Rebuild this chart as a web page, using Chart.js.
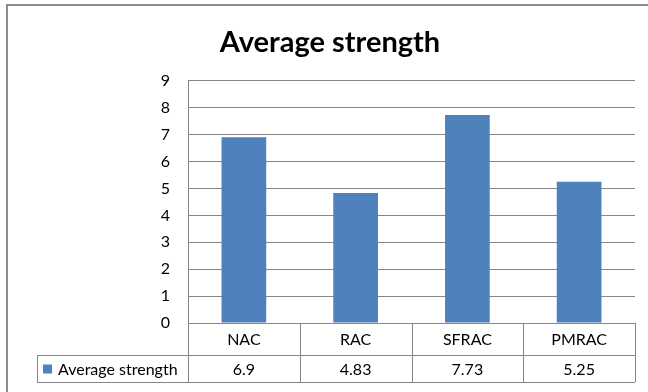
<!DOCTYPE html>
<html>
<head>
<meta charset="utf-8">
<script src="https://cdn.jsdelivr.net/npm/chart.js@4.4.1/dist/chart.umd.min.js"></script>
<style>
  body { margin: 0; background: #fff; }
  #wrap { width: 648px; height: 392px; position: relative; }
</style>
</head>
<body>
<div id="wrap"><canvas id="myChart"></canvas></div>
<script>
// data
var categories = ['NAC', 'RAC', 'SFRAC', 'PMRAC'];
var strength = [6.9, 4.83, 7.73, 5.25];
var seriesName = 'Average strength';
var yTicks = [0, 1, 2, 3, 4, 5, 6, 7, 8, 9];

var fontFam = 'Lato, "Open Sans", sans-serif';
var lineCol = '#868686';
var barCol = '#4F81BD';

// outer frame of the chart object
var framePlugin = {
    id: 'frame',
    beforeDraw: function (chart) {
        var c = chart.ctx;
        c.save();
        c.strokeStyle = '#8c8c8c';
        c.lineWidth = 2;
        c.beginPath();
        c.moveTo(7, 392);
        c.lineTo(7, 5);
        c.lineTo(648, 5);
        c.stroke();
        c.restore();
    }
};

// data table under the plot (like Excel)
var tablePlugin = {
    id: 'dataTable',
    afterDraw: function (chart) {
        var c = chart.ctx;
        var area = chart.chartArea;
        var xs = chart.scales.x;
        var top = area.bottom;
        var mid = top + 32;
        var bot = mid + 27;
        var legLeft = 37;

        c.save();
        c.strokeStyle = lineCol;
        c.lineWidth = 1;
        c.beginPath();
        // horizontal
        c.moveTo(legLeft, Math.round(mid) + 0.5); c.lineTo(area.right, Math.round(mid) + 0.5);
        c.moveTo(legLeft, Math.round(bot) + 0.5); c.lineTo(area.right, Math.round(bot) + 0.5);
        // left edge of legend cell
        c.moveTo(legLeft + 0.5, mid); c.lineTo(legLeft + 0.5, bot);
        // vertical dividers
        var half = (xs.getPixelForValue(1) - xs.getPixelForValue(0)) / 2;
        for (var i = 0; i <= categories.length; i++) {
            var x = i < categories.length ? xs.getPixelForValue(i) - half : xs.getPixelForValue(categories.length - 1) + half;
            x = Math.round(x) + 0.5;
            c.moveTo(x, top); c.lineTo(x, bot);
        }
        c.stroke();

        c.fillStyle = '#000';
        c.font = '16px ' + fontFam;
        c.textAlign = 'center';
        c.textBaseline = 'middle';
        categories.forEach(function (cat, i) {
            var x = xs.getPixelForValue(i);
            c.fillText(cat, x, (top + mid) / 2 + 1);
            c.fillText(String(strength[i]), x, (mid + bot) / 2 + 1);
        });

        // legend key
        c.fillStyle = barCol;
        c.fillRect(43, (mid + bot) / 2 - 4, 9, 9);
        c.fillStyle = '#000';
        c.textAlign = 'left';
        c.fillText(seriesName, 58, (mid + bot) / 2 + 1);
        c.restore();
    }
};

var ctx = document.getElementById('myChart').getContext('2d');
var myChart = new Chart(ctx, {
    type: 'bar',
    data: {
        labels: categories,
        datasets: [{
            label: seriesName,
            data: strength,
            backgroundColor: barCol,
            categoryPercentage: 1,
            barPercentage: 0.4
        }]
    },
    options: {
        responsive: true,
        maintainAspectRatio: false,
        animation: false,
        layout: {
            padding: { top: 6, left: 25, right: 13, bottom: 69 }
        },
        plugins: {
            legend: { display: false },
            tooltip: { enabled: false },
            title: {
                display: true,
                text: 'Average strength',
                color: '#000',
                font: { family: fontFam, size: 29, weight: 'bold' },
                padding: { top: 19, bottom: 21 }
            }
        },
        scales: {
            x: {
                display: false,
                offset: true
            },
            y: {
                min: 0,
                max: 9,
                afterBuildTicks: function (scale) {
                    scale.ticks = yTicks.map(function (v) { return { value: v }; });
                },
                afterFit: function (scale) {
                    scale.width = 163;
                },
                grid: {
                    color: lineCol,
                    drawTicks: false
                },
                border: { color: lineCol },
                ticks: {
                    color: '#000',
                    padding: 18,
                    font: { family: fontFam, size: 16 }
                }
            }
        }
    },
    plugins: [framePlugin, tablePlugin]
});
</script>
</body>
</html>
